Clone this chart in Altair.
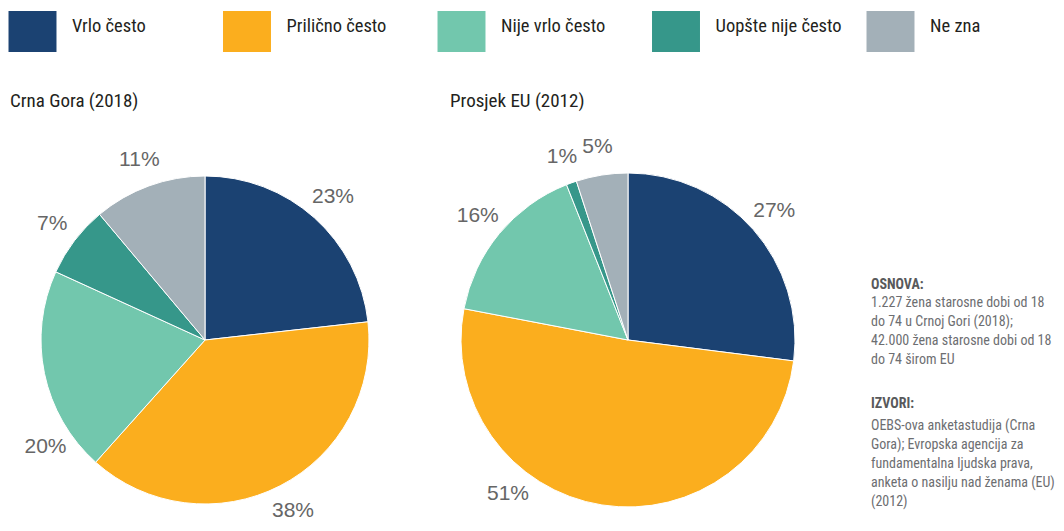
import altair as alt
import pandas as pd

categories = ["Vrlo često", "Prilično često", "Nije vrlo često", "Uopšte nije često", "Ne zna"]
colors = ["#1b4272", "#fbae1e", "#72c7ad", "#36978a", "#a3b0b8"]
cg_values = [23, 38, 20, 7, 11]
eu_values = [27, 51, 16, 1, 5]
cg_title = "Crna Gora (2018)"
eu_title = "Prosjek EU (2012)"
osnova_head = "OSNOVA:"
osnova_body = ["1.227 žena starosne dobi od 18", "do 74 u Crnoj Gori (2018);",
               "42.000 žena starosne dobi od 18", "do 74 širom EU"]
izvori_head = "IZVORI:"
izvori_body = ["OEBS-ova anketastudija (Crna", "Gora); Evropska agencija za",
               "fundamentalna ljudska prava,", "anketa o nasilju nad ženama (EU)", "(2012)"]

NARROW = "Liberation Sans Narrow, Arial Narrow, Roboto Condensed, sans-serif"
SANS = "Liberation Sans, Arial, sans-serif"


def frame(values):
    return pd.DataFrame({
        "cat": categories,
        "order": list(range(len(categories))),
        "value": values,
        "label": [f"{v}%" for v in values],
    })


color_scale = alt.Scale(domain=categories, range=colors)
one_row = pd.DataFrame({"k": [0]})


def note(text, x, y, bold):
    return alt.Chart(one_row).mark_text(
        text=text, align="left", baseline="alphabetic", font=NARROW,
        fontSize=14, lineHeight=19, fontWeight="bold" if bold else "normal",
        color="#58595b" if bold else "#6d6e71"
    ).encode(x=alt.value(x), y=alt.value(y))


def pie(values, title, width, radius, show_legend, nudge_cat, nudge_angle, extra=()):
    base = alt.Chart(frame(values)).encode(
        theta=alt.Theta("value:Q", stack=True),
        order=alt.Order("order:Q"),
    )
    if show_legend:
        legend = alt.Legend(
            title=None, orient="none", direction="horizontal", columns=5,
            gridAlign="all", legendX=2, legendY=-156,
            symbolType="M-1.17,-1H1.17V1H-1.17Z", symbolSize=1681,
            symbolStrokeWidth=0, labelOffset=19, columnPadding=23.5,
            labelFont=NARROW, labelFontSize=18.5, labelColor="#231f20",
            labelBaseline="alphabetic", labelLimit=200,
        )
        color = alt.Color("cat:N", scale=color_scale, sort=categories, legend=legend)
    else:
        color = alt.Color("cat:N", scale=color_scale, sort=categories, legend=None)
    arcs = base.mark_arc(outerRadius=radius, stroke="white", strokeWidth=1).encode(color=color)
    is_nudged = f"datum.cat == '{nudge_cat}'"
    text_main = base.mark_text(radius=radius + 28, font=SANS, fontSize=21,
                               color="#666666").encode(
        text=alt.condition(is_nudged, alt.value(""), "label:N"))
    text_nudged = base.mark_text(radius=radius + 28, font=SANS, fontSize=21,
                                 color="#666666", thetaOffset=nudge_angle).encode(
        text=alt.condition(is_nudged, "label:N", alt.value("")))
    heading = alt.Chart(one_row).mark_text(
        text=title, align="left", baseline="alphabetic", font=NARROW,
        fontSize=19, color="#231f20"
    ).encode(x=alt.value(0), y=alt.value(-60))
    return alt.layer(arcs, text_main, text_nudged, heading, *extra).properties(
        width=width, height=346)


notes = [
    note(osnova_head, 421, 122, True),
    note(osnova_body, 421, 140, False),
    note(izvori_head, 421, 241, True),
    note(izvori_body, 421, 263, False),
]

chart = alt.hconcat(
    pie(cg_values, cg_title, 390, 164, True, "Nije vrlo često", -0.384),
    pie(eu_values, eu_title, 356, 167, False, "Prilično često", 0.506, notes),
    spacing=50,
).resolve_scale(color="shared").properties(
    padding={"left": 2, "top": 3, "right": 0, "bottom": 0}
).configure_view(stroke=None).configure_legend(padding=0)

chart.save("out.html", embed_options={"renderer": "svg", "actions": False})
